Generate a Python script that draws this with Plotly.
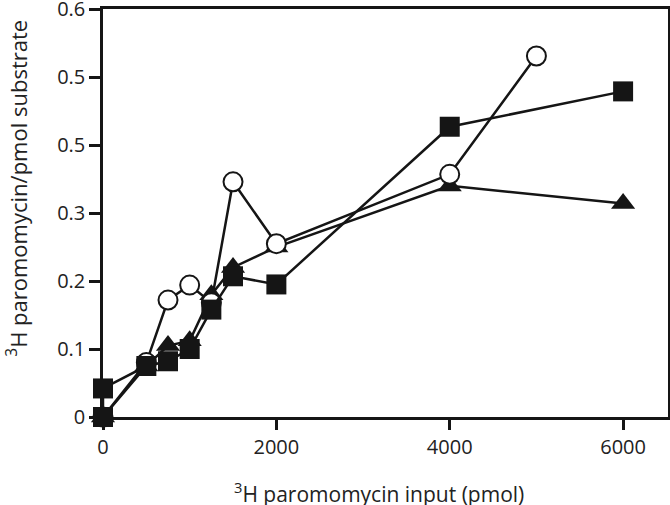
import plotly.graph_objects as go

# Data
x_squares = [0, 0, 500, 750, 1000, 1250, 1500, 2000, 4000, 6000]
y_squares = [0.0, 0.042, 0.075, 0.082, 0.100, 0.158, 0.207, 0.195, 0.427, 0.479]

x_circles = [0, 500, 750, 1000, 1250, 1500, 2000, 4000, 5000]
y_circles = [0.0, 0.080, 0.172, 0.194, 0.168, 0.346, 0.255, 0.357, 0.531]

x_triangles = [0, 500, 750, 1000, 1250, 1500, 2000, 4000, 6000]
y_triangles = [0.0, 0.075, 0.105, 0.112, 0.180, 0.220, 0.250, 0.340, 0.314]

y_tickvals = [0, 0.1, 0.2, 0.3, 0.4, 0.5, 0.6]
y_ticktext = ["0", "0.1", "0.2", "0.3", "0.5", "0.5", "0.6"]
x_tickvals = [0, 2000, 4000, 6000]
x_ticktext = ["0", "2000", "4000", "6000"]

x_title = "<sup>3</sup>H paromomycin input (pmol)"
y_title = "<sup>3</sup>H paromomycin/pmol substrate"

INK = "#151515"
TXT = "#222222"
FONT = "Open Sans"

fig = go.Figure()
fig.add_trace(go.Scatter(
    x=x_triangles, y=y_triangles, mode="lines+markers",
    line=dict(color=INK, width=2.5),
    marker=dict(symbol="triangle-up", size=21, color=INK, line=dict(width=0)),
    cliponaxis=False, showlegend=False))
fig.add_trace(go.Scatter(
    x=x_circles, y=y_circles, mode="lines+markers",
    line=dict(color=INK, width=2.5),
    marker=dict(symbol="circle", size=19, color="white", line=dict(width=2, color=INK)),
    cliponaxis=False, showlegend=False))
fig.add_trace(go.Scatter(
    x=x_squares, y=y_squares, mode="lines+markers",
    line=dict(color=INK, width=2.5),
    marker=dict(symbol="square", size=20, color=INK, line=dict(width=0)),
    cliponaxis=False, showlegend=False))

fig.update_layout(
    width=670, height=505,
    margin=dict(l=103, r=2, t=9, b=88, autoexpand=False),
    paper_bgcolor="white", plot_bgcolor="white",
    font=dict(family=FONT, size=19, color=TXT),
    xaxis=dict(range=[0, 6518], tickvals=x_tickvals, ticktext=x_ticktext,
               automargin=False, ticklabeloverflow="allow",
               showgrid=False, zeroline=False, showline=True, linecolor=INK,
               linewidth=2.5, mirror=True, ticks="outside", ticklen=10,
               tickwidth=2.5, tickcolor=INK, tickfont=dict(size=20, color=TXT)),
    yaxis=dict(range=[0, 0.6002], tickvals=y_tickvals, ticktext=y_ticktext,
               automargin=False, ticklabeloverflow="allow",
               showgrid=False, zeroline=False, showline=True, linecolor=INK,
               linewidth=2.5, mirror=True, ticks="outside", ticklen=11,
               tickwidth=2.5, tickcolor=INK, tickfont=dict(size=20, color=TXT)),
    annotations=[
        dict(text=x_title, xref="paper", yref="paper", x=0.488, y=-0.185,
             xanchor="center", yanchor="middle", showarrow=False,
             font=dict(size=21, color=TXT)),
        dict(text=y_title, xref="paper", yref="paper", x=-0.153, y=0.561,
             xanchor="center", yanchor="middle", showarrow=False, textangle=-90,
             font=dict(size=22, color=TXT)),
    ],
)

fig.write_html("out.html", config={"displayModeBar": False},
               post_script="document.body.style.margin='0';document.body.style.overflow='hidden';")
